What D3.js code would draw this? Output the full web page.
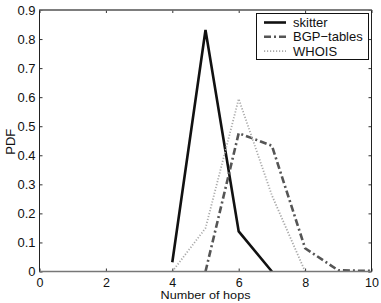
<!DOCTYPE html>
<html><head><meta charset="utf-8">
<script src="https://cdn.jsdelivr.net/npm/d3@7"></script>
<style>body{margin:0;background:#fff}text{font-family:"Liberation Sans",Arial,sans-serif}</style>
</head><body><svg id="c" width="381" height="303"></svg>
<script>
const hops = [4,5,6,7,8,9,10];
const skitter = [0.032,0.831,0.138,0,null,null,null];
const bgp = [null,0,0.476,0.433,0.080,0.004,0.002];
const whois = [0,0.149,0.594,0.262,0,null,null];
const xTicks = [0,2,4,6,8,10];
const yTicks = [0,0.1,0.2,0.3,0.4,0.5,0.6,0.7,0.8,0.9];
const names = ["skitter","BGP\u2212tables","WHOIS"];

const svg = d3.select("#c");
const L=39.5,R=371.5,T=10,B=271.5;
const x = d3.scaleLinear().domain([0,10]).range([L,R]);
const y = d3.scaleLinear().domain([0,0.9]).range([B,T]);

svg.append("rect").attr("x",L).attr("y",T).attr("width",R-L).attr("height",B-T).attr("fill","#fff");

const styles = [
 {c:"#111",w:2.6,d:null},
 {c:"#555",w:2.6,d:"7,3,2,3"},
 {c:"#aaa",w:1.8,d:"1.2,1.8"}
];
const series=[skitter,bgp,whois];
const line = d3.line().defined(d=>d[1]!=null).x(d=>x(d[0])).y(d=>y(d[1]));
series.forEach((s,i)=>{
  svg.append("path").datum(hops.map((h,j)=>[h,s[j]]))
   .attr("d",line).attr("fill","none").attr("stroke",styles[i].c)
   .attr("stroke-width",styles[i].w).attr("stroke-dasharray",styles[i].d);
});

// axes
const gx = svg.append("g").attr("transform",`translate(0,${B})`)
 .call(d3.axisBottom(x).tickValues(xTicks).tickSize(-3).tickPadding(6.5).tickFormat(d3.format("d")));
const gxt = svg.append("g").attr("transform",`translate(0,${T})`)
 .call(d3.axisTop(x).tickValues(xTicks).tickSize(-3).tickFormat(""));
const gy = svg.append("g").attr("transform",`translate(${L},0)`)
 .call(d3.axisLeft(y).tickValues(yTicks).tickSize(-3).tickPadding(4).tickFormat(d=>d===0?"0":d3.format(".1f")(d)));
const gyr = svg.append("g").attr("transform",`translate(${R},0)`)
 .call(d3.axisRight(y).tickValues(yTicks).tickSize(-3).tickFormat(""));
[gx,gxt,gy,gyr].forEach(g=>{
  g.select(".domain").remove();
  g.selectAll("line").attr("stroke","#333");
  g.selectAll("text").attr("font-size",13).attr("fill","#111").attr("font-family","Liberation Sans, Arial, sans-serif");
});
gx.selectAll("text").attr("font-size",12.5);
svg.append("rect").attr("x",L).attr("y",T).attr("width",R-L).attr("height",B-T)
 .attr("fill","none").attr("stroke","#222").attr("stroke-width",1);
svg.append("line").attr("x1",L).attr("x2",R).attr("y1",B).attr("y2",B).attr("stroke","#777").attr("stroke-width",1.5);
svg.append("line").attr("x1",L).attr("x2",R).attr("y1",T).attr("y2",T).attr("stroke","#777").attr("stroke-width",1.5);

svg.append("text").attr("x",(L+R)/2).attr("y",298.5).attr("text-anchor","middle")
 .attr("font-size",11.5).attr("textLength",90).attr("lengthAdjust","spacingAndGlyphs")
 .attr("fill","#111").text("Number of hops");
svg.append("text").attr("transform",`translate(14.5,${(T+B)/2+1}) rotate(-90)`).attr("text-anchor","middle")
 .attr("font-size",13).attr("fill","#111").text("PDF");

// legend
const lg = svg.append("g");
lg.append("rect").attr("x",256.5).attr("y",13.5).attr("width",112).attr("height",46)
 .attr("fill","#fff").attr("stroke","#111").attr("stroke-width",1);
names.forEach((n,i)=>{
  const yy = 22.5+i*14.3;
  lg.append("line").attr("x1",264).attr("x2",286).attr("y1",yy).attr("y2",yy)
   .attr("stroke",styles[i].c).attr("stroke-width",styles[i].w).attr("stroke-dasharray",styles[i].d);
  lg.append("text").attr("x",293).attr("y",yy+4.5).attr("font-size",13).attr("fill","#111").text(n);
});
</script></body></html>
